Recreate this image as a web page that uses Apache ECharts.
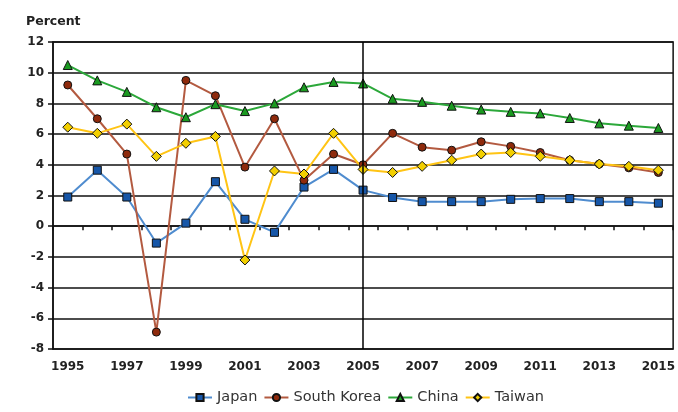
<!DOCTYPE html>
<html>
<head>
<meta charset="utf-8">
<script src="https://cdn.jsdelivr.net/npm/echarts@6/dist/echarts.min.js"></script>
<style>html,body{margin:0;padding:0;background:#fff}#c{width:678px;height:412px}</style>
</head>
<body>
<div id="c"></div>
<script>
const years = ['1995','1996','1997','1998','1999','2000','2001','2002','2003','2004','2005','2006','2007','2008','2009','2010','2011','2012','2013','2014','2015'];
const japan = [1.9,3.65,1.9,-1.1,0.2,2.9,0.45,-0.4,2.55,3.7,2.35,1.87,1.6,1.6,1.6,1.75,1.8,1.8,1.6,1.6,1.5];
const southKorea = [9.2,7.0,4.7,-6.9,9.5,8.5,3.85,7.0,3.0,4.7,4.0,6.05,5.15,4.95,5.5,5.2,4.8,4.3,4.05,3.8,3.5];
const china = [10.5,9.5,8.75,7.75,7.1,7.95,7.5,8.0,9.05,9.4,9.3,8.3,8.1,7.85,7.6,7.45,7.35,7.05,6.7,6.55,6.4];
const taiwan = [6.45,6.05,6.65,4.55,5.4,5.85,-2.2,3.6,3.4,6.05,3.7,3.5,3.9,4.3,4.7,4.8,4.55,4.3,4.05,3.9,3.65];
const yTitle = 'Percent';
const dividerYear = '2005';

const font = 'DejaVu Sans, Verdana, sans-serif';
const chart = echarts.init(document.getElementById('c'));
function mk(name, data, lineColor, fill, symbol, size) {
  return {
    name, type: 'line', data, xAxisIndex: 0,
    symbol, symbolSize: size,
    lineStyle: { color: lineColor, width: 2 },
    itemStyle: { color: fill, borderColor: '#111', borderWidth: 1 },
    emphasis: { disabled: true },
    animation: false
  };
}
const series = [
  mk('Japan', japan, '#4f8ccf', '#1656a8', 'rect', 8),
  mk('South Korea', southKorea, '#b35a40', '#8e2a0c', 'circle', 8),
  mk('China', china, '#2ca83a', '#1a9a20', 'triangle', 9),
  mk('Taiwan', taiwan, '#ffc414', '#f2cf00', 'diamond', 10)
];
series[0].markLine = {
  silent: true, symbol: 'none', label: { show: false },
  lineStyle: { color: '#000', width: 1.5, type: 'solid' },
  data: [{ xAxis: dividerYear }]
};
chart.setOption({
  animation: false,
  grid: { left: 53, right: 2, top: 42, bottom: 63, show: true, borderColor: '#111', borderWidth: 1.5 },
  title: { text: yTitle, left: 21, top: 10, textStyle: { fontFamily: font, fontSize: 12.5, fontWeight: 'bold', color: '#222' } },
  legend: {
    bottom: 2, left: 182, itemWidth: 24, itemHeight: 9, itemGap: 6,
    textStyle: { fontFamily: font, fontSize: 14.5, color: '#333' },
    data: ['Japan','South Korea','China','Taiwan']
  },
  xAxis: [
    {
      type: 'category', data: years, boundaryGap: true, position: 'bottom',
      axisLine: { show: false, onZero: false },
      axisTick: { show: false },
      axisLabel: { interval: 1, fontFamily: font, fontSize: 12, fontWeight: 'bold', color: '#222', margin: 12 },
      splitLine: { show: false }
    },
    {
      type: 'category', data: years, boundaryGap: true, position: 'bottom',
      axisLine: { show: true, onZero: true, lineStyle: { color: '#111', width: 1.5 } },
      axisTick: { show: true, interval: 0, length: 4, inside: false, lineStyle: { color: '#111', width: 1.5 } },
      axisLabel: { show: false },
      splitLine: { show: false }
    }
  ],
  yAxis: {
    type: 'value', min: -8, max: 12, interval: 2,
    axisLine: { show: true, onZero: false, lineStyle: { color: '#111', width: 1.5 } },
    axisTick: { show: true, length: 5, lineStyle: { color: '#111', width: 1.5 } },
    axisLabel: { fontFamily: font, fontSize: 12, fontWeight: 'bold', color: '#222', margin: 9 },
    splitLine: { show: true, lineStyle: { color: '#111', width: 1.5 } }
  },
  series
});
</script>
</body>
</html>
